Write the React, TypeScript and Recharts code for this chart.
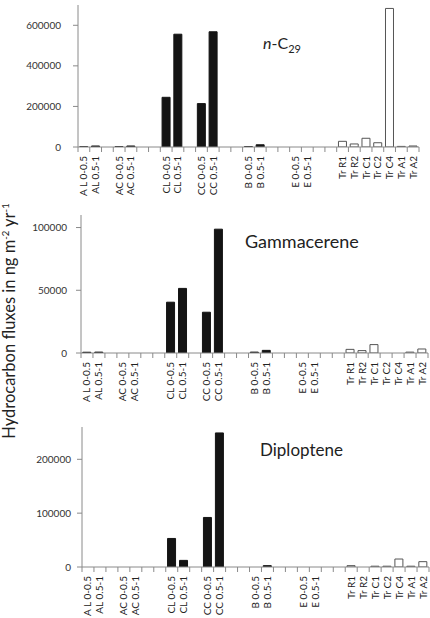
import React from "react";
import { BarChart, Bar, XAxis, YAxis, Cell } from "recharts";

// sample sites along the x axis; "" entries are spacer slots between site groups
const categories = [
  "A L 0-0.5", "AL 0.5-1", "",
  "AC 0-0.5", "AC 0.5-1", "", "",
  "CL 0-0.5", "CL 0.5-1", "",
  "CC 0-0.5", "CC 0.5-1", "", "",
  "B 0-0.5", "B 0.5-1", "", "",
  "E 0-0.5", "E 0.5-1", "", "",
  "Tr R1", "Tr R2", "Tr C1", "Tr C2", "Tr C4", "Tr A1", "Tr A2",
];

// fluxes in ng m-2 yr-1
const nC29 = [
  1500, 5000, null,
  2000, 5000, null, null,
  245000, 556000, null,
  214000, 568000, null, null,
  2000, 11000, null, null,
  0, 0, null, null,
  28000, 15000, 43000, 21000, 683000, 3000, 5000,
];
const gammacerene = [
  600, 700, null,
  0, 0, null, null,
  40500, 51500, null,
  32500, 98700, null, null,
  700, 2100, null, null,
  0, 0, null, null,
  2900, 1900, 6700, 0, 0, 700, 3200,
];
const diploptene = [
  0, 0, null,
  0, 0, null, null,
  53000, 12300, null,
  92000, 249000, null, null,
  0, 2500, null, null,
  0, 0, null, null,
  2500, 0, 1500, 1500, 14800, 1500, 9900,
];

const nC29Ticks = [0, 200000, 400000, 600000];
const gammaceraneTicks = [0, 50000, 100000];
const diplopteneTicks = [0, 100000, 200000];

const W = 430;
const FONT = "Lato, 'Open Sans', sans-serif";
const AXIS = "#8a8a8a";

type PanelProps = {
  values: (number | null)[];
  max: number;
  ticks: number[];
  top: number;
  height: number;
  plotTop: number;
  plotBottom: number;
  plotLeft: number;
  plotRight: number;
  tickGap: number;
};

// category label plus a tick mark on the left edge of each slot (and the right edge of the last)
function CatTick(props: any) {
  const { x, y, payload, index, band, count } = props;
  const axisY = y - 5;
  const half = band / 2;
  return (
    <g>
      <line x1={x - half} x2={x - half} y1={axisY} y2={axisY + 5} stroke={AXIS} />
      {index === count - 1 && (
        <line x1={x + half} x2={x + half} y1={axisY} y2={axisY + 5} stroke={AXIS} />
      )}
      <text
        x={x}
        y={y + 4}
        transform={`rotate(-90, ${x}, ${y + 4})`}
        textAnchor="end"
        dy="0.35em"
        fontSize={10}
        fontFamily={FONT}
        fill="#222"
      >
        {payload.value}
      </text>
    </g>
  );
}

function Panel(p: PanelProps) {
  const rows = categories.map((name, i) => ({ name, v: p.values[i] }));
  const band = (p.plotRight - p.plotLeft) / categories.length;
  return (
    <div style={{ position: "absolute", left: 0, top: p.top }}>
      <BarChart
        width={W}
        height={p.height}
        data={rows}
        margin={{ top: p.plotTop - p.top, right: W - p.plotRight, left: 0, bottom: 0 }}
        barCategoryGap="15%"
      >
        <XAxis
          dataKey="name"
          interval={0}
          height={p.height - (p.plotBottom - p.top)}
          tickLine={false}
          tickSize={5}
          tickMargin={0}
          stroke={AXIS}
          tick={(t: any) => <CatTick {...t} band={band} count={categories.length} />}
        />
        <XAxis xAxisId="frame" orientation="top" height={0} tick={false} tickLine={false} stroke={AXIS} />
        <YAxis
          width={p.plotLeft}
          domain={[0, p.max]}
          ticks={p.ticks}
          allowDataOverflow
          tickSize={5}
          tickMargin={p.tickGap}
          stroke={AXIS}
          tick={{ fontSize: 10, fontFamily: FONT, fill: "#333" }}
        />
        <YAxis yAxisId="frame" orientation="right" width={0} domain={[0, p.max]} tick={false} tickLine={false} stroke={AXIS} />
        <Bar dataKey="v" isAnimationActive={false}>
          {rows.map((r, i) => {
            const open = r.name.startsWith("Tr");
            return (
              <Cell
                key={i}
                fill={open ? "#fff" : "#141414"}
                stroke={open ? "#555" : "#141414"}
                strokeWidth={1}
              />
            );
          })}
        </Bar>
      </BarChart>
    </div>
  );
}

const titleStyle: React.CSSProperties = {
  position: "absolute",
  fontFamily: FONT,
  fontSize: 16,
  color: "#222",
  lineHeight: 1,
  whiteSpace: "nowrap",
};

export default function App() {
  return (
    <div style={{ position: "absolute", left: 0, top: 0, width: W, height: 618, background: "#fff", overflow: "hidden" }}>
      <Panel values={nC29} max={700000} ticks={nC29Ticks} top={0} height={210}
        plotTop={5} plotBottom={147} plotLeft={78} plotRight={419} tickGap={12} />
      <Panel values={gammacerene} max={110000} ticks={gammaceraneTicks} top={210} height={200}
        plotTop={215} plotBottom={353} plotLeft={81} plotRight={428} tickGap={9} />
      <Panel values={diploptene} max={260000} ticks={diplopteneTicks} top={410} height={208}
        plotTop={427} plotBottom={567} plotLeft={82} plotRight={429} tickGap={6} />

      <div style={{ ...titleStyle, left: 263, top: 35 }}>
        <i>n</i>-C<sub style={{ fontSize: 11 }}>29</sub>
      </div>
      <div style={{ ...titleStyle, fontSize: 18, left: 245, top: 232 }}>Gammacerene</div>
      <div style={{ ...titleStyle, fontSize: 17, left: 260, top: 441 }}>Diploptene</div>

      <div
        style={{
          position: "absolute",
          left: 9,
          top: 321,
          transform: "translate(-50%, -50%) rotate(-90deg)",
          fontFamily: FONT,
          fontSize: 16.5,
          color: "#222",
          whiteSpace: "nowrap",
        }}
      >
        Hydrocarbon fluxes in ng m<sup style={{ fontSize: 9.5 }}>-2</sup> yr<sup style={{ fontSize: 9.5 }}>-1</sup>
      </div>
    </div>
  );
}
